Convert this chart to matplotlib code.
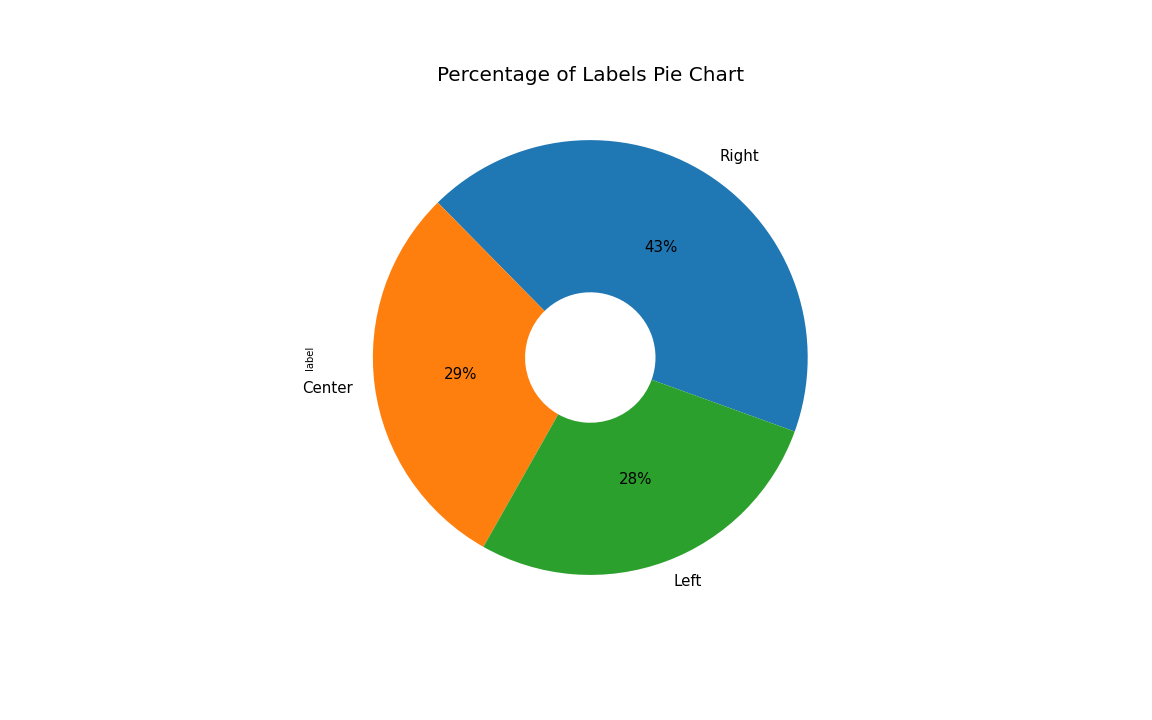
import matplotlib
matplotlib.use("Agg")
import matplotlib.pyplot as plt

# share of each label (percent)
categories = ["Right", "Center", "Left"]
shares = [42.9, 29.45, 27.65]

fig = plt.figure(figsize=(16, 10), dpi=72)
ax = fig.add_axes([0.2765, 0.126, 0.4718, 0.7549])

ax.pie(shares, labels=categories, autopct="%1.0f%%", startangle=-19.9,
       colors=["#1f77b4", "#ff7f0e", "#2ca02c"],
       wedgeprops=dict(width=0.7), textprops=dict(fontsize=15))
ax.set_ylabel("label", fontsize=10)
ax.set_title("Percentage of Labels Pie Chart", fontsize=20, pad=4.75)

fig.savefig("out.png", dpi=72)
